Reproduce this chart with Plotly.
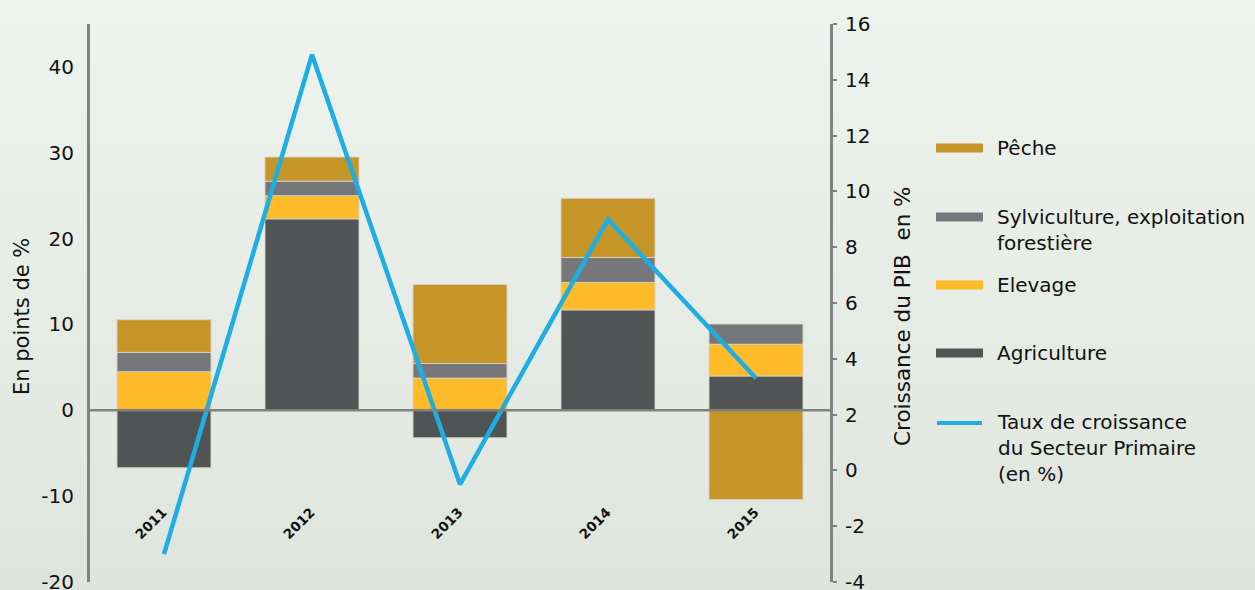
import base64, struct, zlib
import plotly.graph_objects as go

years = ["2011", "2012", "2013", "2014", "2015"]
agriculture = [-6.7, 22.3, -3.2, 11.7, 4.0]
elevage = [4.5, 2.7, 3.75, 3.2, 3.7]
sylviculture = [2.25, 1.7, 1.7, 2.9, 2.35]
peche = [3.8, 2.8, 9.2, 6.9, -10.4]
taux_croissance = [-3.0, 14.9, -0.5, 9.0, 3.3]

left_ticks = [-20, -10, 0, 10, 20, 30, 40]
right_ticks = [-4, -2, 0, 2, 4, 6, 8, 10, 12, 14, 16]

C_PECHE = "#c59528"
C_SYLVI = "#75777a"
C_ELEV = "#fdbb2a"
C_AGRI = "#515455"
C_LINE = "#1eaee4"
AXIS = "#808282"
FONT = "DejaVu Sans, Verdana, sans-serif"
TXT = "#111111"

W, H = 1255, 590
L, R, T, B = 90, 425, 24, 8
PW, PH = W - L - R, H - T - B


def px(x):
    return (x - L) / PW


def py(y):
    return (H - B - y) / PH


def gradient_png(w, h, top, bottom):
    rows = []
    for j in range(h):
        t = j / (h - 1)
        c = [round(top[k] + (bottom[k] - top[k]) * t) for k in range(3)]
        rows.append(b"\x00" + bytes(c) * w)
    raw = b"".join(rows)

    def chunk(tag, data):
        return (struct.pack(">I", len(data)) + tag + data +
                struct.pack(">I", zlib.crc32(tag + data) & 0xffffffff))

    png = (b"\x89PNG\r\n\x1a\n" +
           chunk(b"IHDR", struct.pack(">IIBBBBB", w, h, 8, 2, 0, 0, 0)) +
           chunk(b"IDAT", zlib.compress(raw, 9)) + chunk(b"IEND", b""))
    return "data:image/png;base64," + base64.b64encode(png).decode()


bg = gradient_png(4, 64, (0xef, 0xf3, 0xef), (0xdf, 0xe5, 0xdd))


def hyphen(v):
    return str(v).replace("\u2212", "-")


fig = go.Figure()
edge = dict(color="rgba(215,212,195,0.9)", width=1)
for name, vals, col in [("Agriculture", agriculture, C_AGRI),
                        ("Elevage", elevage, C_ELEV),
                        ("Sylviculture, exploitation forestière", sylviculture, C_SYLVI),
                        ("Pêche", peche, C_PECHE)]:
    fig.add_trace(go.Bar(x=years, y=vals, name=name, marker=dict(color=col, line=edge),
                         showlegend=False))

fig.add_trace(go.Scatter(x=years, y=taux_croissance, yaxis="y2", mode="lines",
                         line=dict(color=C_LINE, width=4.5), showlegend=False,
                         name="Taux de croissance du Secteur Primaire (en %)"))

fig.update_layout(
    width=W, height=H,
    margin=dict(l=L, r=R, t=T, b=B, pad=0, autoexpand=False),
    paper_bgcolor="rgba(0,0,0,0)", plot_bgcolor="rgba(0,0,0,0)",
    barmode="relative", bargap=0.365,
    font=dict(family=FONT, size=20, color=TXT),
    xaxis=dict(type="category", range=[-0.5, 4.5], showticklabels=False, showgrid=False,
               zeroline=False, showline=False, ticks="", automargin=False),
    yaxis=dict(range=[-20, 45], tickvals=left_ticks, ticktext=[hyphen(v) for v in left_ticks],
               showgrid=False, zeroline=False, showline=True, linecolor=AXIS, linewidth=3,
               ticks="", ticklabelstandoff=9, ticklabeloverflow="allow", automargin=False,
               tickfont=dict(size=20, family=FONT, color=TXT)),
    yaxis2=dict(range=[-4, 16], tickvals=right_ticks, ticktext=[hyphen(v) for v in right_ticks],
                overlaying="y", side="right", showgrid=False, zeroline=False, showline=True,
                linecolor=AXIS, linewidth=3, ticks="outside", ticklen=4, tickwidth=2,
                tickcolor=AXIS, ticklabelstandoff=4, ticklabeloverflow="allow",
                automargin=False, tickfont=dict(size=20, family=FONT, color=TXT)),
    images=[dict(source=bg, xref="paper", yref="paper", x=px(0), y=py(0),
                 sizex=W / PW, sizey=H / PH, xanchor="left", yanchor="top",
                 sizing="stretch", layer="below")],
)

# zero line over bars
fig.add_shape(type="line", xref="paper", yref="y", x0=0, x1=1, y0=0, y1=0,
              line=dict(color=AXIS, width=2.5), layer="above")

# year labels inside plot
for i, yr in enumerate(years):
    fig.add_annotation(x=i, y=py(523), xref="x", yref="paper", text="<b>%s</b>" % yr,
                       showarrow=False, textangle=-45, xshift=-13,
                       xanchor="center", yanchor="middle",
                       font=dict(size=13.5, family=FONT, color=TXT))

# axis titles
fig.add_annotation(x=px(22), y=py(317), xref="paper", yref="paper", text="En points de %",
                   showarrow=False, textangle=-90, xanchor="center", yanchor="middle",
                   font=dict(size=21, family=FONT, color=TXT))
fig.add_annotation(x=px(902), y=py(316), xref="paper", yref="paper",
                   text="Croissance du PIB\u00a0\u00a0en %",
                   showarrow=False, textangle=-90, xanchor="center", yanchor="middle",
                   font=dict(size=21.5, family=FONT, color=TXT))

# custom legend
legend_items = [
    ("Pêche", C_PECHE, "bar", 148, 148),
    ("Sylviculture, exploitation<br>forestière", C_SYLVI, "bar", 217, 230),
    ("Elevage", C_ELEV, "bar", 285, 285),
    ("Agriculture", C_AGRI, "bar", 353, 353),
    ("Taux de croissance<br>du Secteur Primaire<br>(en %)", C_LINE, "line", 423, 448),
]
for text, col, kind, sy, ty in legend_items:
    if kind == "bar":
        fig.add_shape(type="rect", xref="paper", yref="paper", x0=px(936), x1=px(983),
                      y0=py(sy + 4.5), y1=py(sy - 4.5), fillcolor=col, line=dict(width=0))
    else:
        fig.add_shape(type="line", xref="paper", yref="paper", x0=px(937), x1=px(982),
                      y0=py(sy), y1=py(sy), line=dict(color=col, width=4))
    fig.add_annotation(x=px(995), y=py(ty), xref="paper", yref="paper", text=text,
                       showarrow=False, xanchor="left", yanchor="middle", align="left",
                       font=dict(size=20, family=FONT, color=TXT))

fig.write_html("out.html")
